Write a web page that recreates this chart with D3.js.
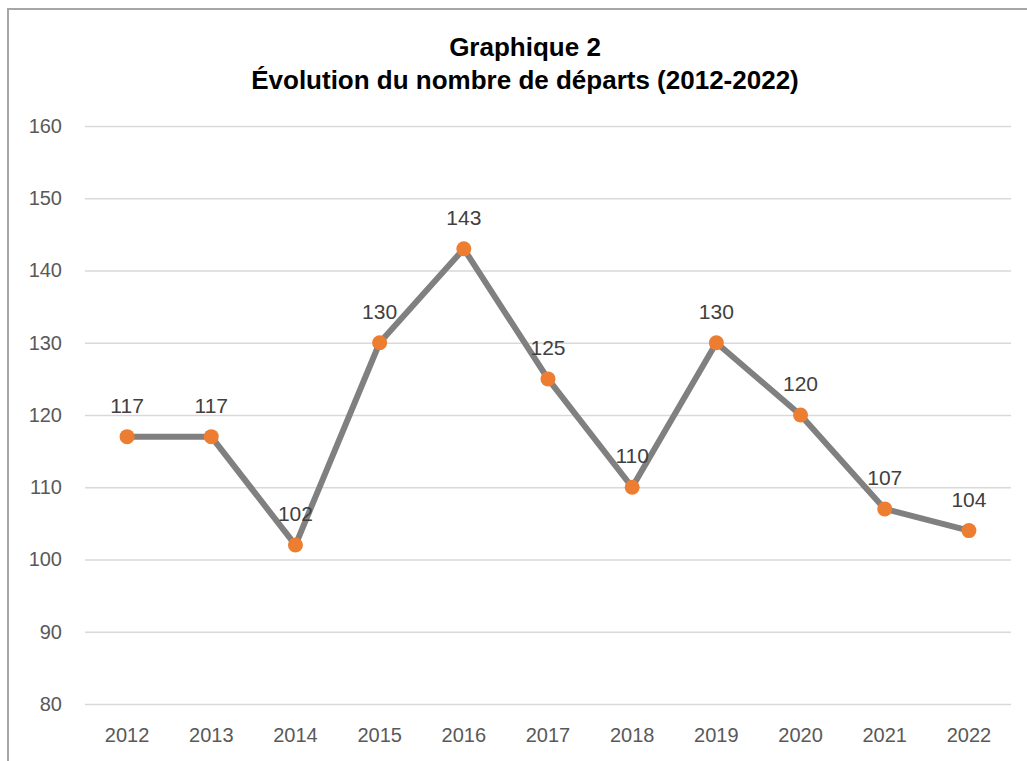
<!DOCTYPE html>
<html>
<head>
<meta charset="utf-8">
<script src="https://cdn.jsdelivr.net/npm/d3@7"></script>
<style>
  body { margin: 0; background: #fff; }
  svg { display: block; }
</style>
</head>
<body>
<div id="vis"></div>
<script>
const width = 1027;
const height = 761;

const years = ["2012", "2013", "2014", "2015", "2016", "2017", "2018", "2019", "2020", "2021", "2022"];
const departs = [117, 117, 102, 130, 143, 125, 110, 130, 120, 107, 104];
const yTicks = [80, 90, 100, 110, 120, 130, 140, 150, 160];
const titleLines = ["Graphique 2", "Évolution du nombre de départs (2012-2022)"];

const svg = d3.select("#vis")
	.append("svg")
		.attr("width", width)
		.attr("height", height);

// chart frame (cut on the right and bottom like the screenshot)
svg.append("rect")
	.attr("x", 8)
	.attr("y", 9)
	.attr("width", 1040)
	.attr("height", 780)
	.attr("fill", "#fff")
	.attr("stroke", "#a6a6a6")
	.attr("stroke-width", 2);

const x = d3.scaleBand()
	.domain(years)
	.range([85, 1011]);

const y = d3.scaleLinear()
	.domain([80, 160])
	.range([704, 126]);

// title
svg.append("text")
	.attr("x", 525)
	.attr("text-anchor", "middle")
	.attr("font-family", "Liberation Sans, Arial, sans-serif")
	.attr("font-weight", "bold")
	.attr("font-size", 26)
	.attr("fill", "#000")
	.selectAll("tspan")
	.data(titleLines)
	.enter()
	.append("tspan")
		.attr("x", 525)
		.attr("y", (d, i) => 56 + i * 33)
		.text(d => d);

// gridlines + y labels
const yAxis = d3.axisLeft(y)
	.tickValues(yTicks)
	.tickSize(-(1011 - 85))
	.tickPadding(23);

const gy = svg.append("g")
	.attr("transform", "translate(85,0)")
	.call(yAxis);
gy.select(".domain").remove();
gy.selectAll(".tick line")
	.attr("stroke", "#d9d9d9")
	.attr("stroke-width", 1.5);
gy.selectAll(".tick text")
	.attr("font-family", "Liberation Sans, Arial, sans-serif")
	.attr("font-size", 20)
	.attr("fill", "#595959");

// x labels
const xAxis = d3.axisBottom(x).tickSize(0).tickPadding(24);
const gx = svg.append("g")
	.attr("transform", "translate(0,704)")
	.call(xAxis);
gx.select(".domain").remove();
gx.selectAll(".tick text")
	.attr("font-family", "Liberation Sans, Arial, sans-serif")
	.attr("font-size", 20)
	.attr("fill", "#595959");

const data = years.map((yr, i) => ({ year: yr, value: departs[i] }));
const cx = d => x(d.year) + x.bandwidth() / 2;

const line = d3.line()
	.x(cx)
	.y(d => y(d.value));

svg.append("path")
	.datum(data)
	.attr("d", line)
	.attr("fill", "none")
	.attr("stroke", "#808080")
	.attr("stroke-width", 6)
	.attr("stroke-linejoin", "round");

svg.selectAll("circle.pt")
	.data(data)
	.enter()
	.append("circle")
		.attr("class", "pt")
		.attr("cx", cx)
		.attr("cy", d => y(d.value))
		.attr("r", 7.5)
		.attr("fill", "#ed7d31");

svg.selectAll("text.lbl")
	.data(data)
	.enter()
	.append("text")
		.attr("class", "lbl")
		.attr("x", cx)
		.attr("y", d => y(d.value) - 24)
		.attr("text-anchor", "middle")
		.attr("font-family", "Liberation Sans, Arial, sans-serif")
		.attr("font-size", 21)
		.attr("fill", "#404040")
		.text(d => d.value);
</script>
</body>
</html>
